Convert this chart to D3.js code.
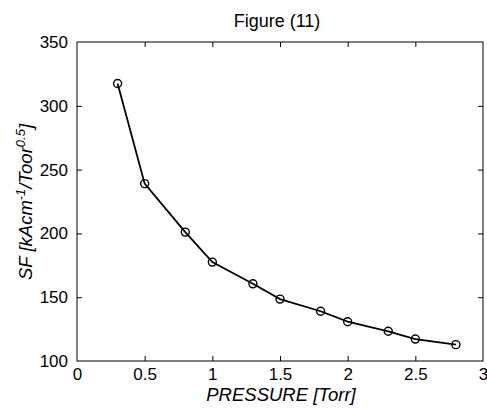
<!DOCTYPE html>
<html><head><meta charset="utf-8">
<script src="https://cdn.jsdelivr.net/npm/d3@7"></script>
<style>body{margin:0;background:#fff}svg{display:block}text{font-family:"Liberation Sans",Arial,sans-serif;fill:#000}</style>
</head><body><svg id="c" width="487" height="408"></svg>
<script>
const pressure = [0.3, 0.5, 0.8, 1.0, 1.3, 1.5, 1.8, 2.0, 2.3, 2.5, 2.8];
const sf = [317.5, 239, 201, 177.5, 160.5, 148.5, 139, 130.8, 123.3, 117.2, 112.8];
const xTicks = [0, 0.5, 1, 1.5, 2, 2.5, 3];
const yTicks = [100, 150, 200, 250, 300, 350];
const title = "Figure (11)";

const svg = d3.select("#c");
const L = 77, R = 483, T = 42, B = 361;
const x = d3.scaleLinear().domain([0, 3]).range([L, R]);
const y = d3.scaleLinear().domain([100, 350]).range([B, T]);
const fmt = d => d3.format("")(d);

svg.append("rect").attr("x", L).attr("y", T).attr("width", R - L).attr("height", B - T)
  .attr("fill", "#fff").attr("stroke", "#000").attr("stroke-width", 1);

const gx = svg.append("g").attr("transform", `translate(0,${B})`)
  .call(d3.axisBottom(x).tickValues(xTicks).tickSize(-5).tickPadding(7).tickFormat(fmt));
const gxt = svg.append("g").attr("transform", `translate(0,${T})`)
  .call(d3.axisTop(x).tickValues(xTicks).tickSize(-5).tickFormat(""));
const gy = svg.append("g").attr("transform", `translate(${L},0)`)
  .call(d3.axisLeft(y).tickValues(yTicks).tickSize(-5).tickPadding(9).tickFormat(fmt));
const gyr = svg.append("g").attr("transform", `translate(${R},0)`)
  .call(d3.axisRight(y).tickValues(yTicks).tickSize(-5).tickFormat(""));
[gx, gxt, gy, gyr].forEach(g => {
  g.select(".domain").remove();
  g.selectAll(".tick line").attr("stroke", "#000");
  g.selectAll("text").attr("font-size", 17).attr("font-family", "Liberation Sans, Arial, sans-serif").attr("fill", "#000");
});
gx.selectAll(".tick").filter(d => d === 0 || d === 3).select("line").remove();
gxt.selectAll(".tick").filter(d => d === 0 || d === 3).select("line").remove();
gy.selectAll(".tick").filter(d => d === 100 || d === 350).select("line").remove();
gyr.selectAll(".tick").filter(d => d === 100 || d === 350).select("line").remove();

const pts = pressure.map((p, i) => [p, sf[i]]);
svg.append("path").datum(pts)
  .attr("d", d3.line().x(d => x(d[0])).y(d => y(d[1])))
  .attr("fill", "none").attr("stroke", "#000").attr("stroke-width", 1.8);
svg.selectAll("circle.m").data(pts).enter().append("circle")
  .attr("cx", d => x(d[0])).attr("cy", d => y(d[1])).attr("r", 4)
  .attr("fill", "none").attr("stroke", "#000").attr("stroke-width", 1.4);

svg.append("text").attr("x", 277).attr("y", 27).attr("text-anchor", "middle")
  .attr("font-size", 18).text(title);

svg.append("text").attr("x", 281).attr("y", 401).attr("text-anchor", "middle")
  .attr("font-size", 18.5).attr("font-style", "italic").text("PRESSURE [Torr]");

const yl = svg.append("text").attr("transform", "translate(32,202) rotate(-90)")
  .attr("text-anchor", "middle").attr("font-size", 18.5).attr("font-style", "italic");
yl.append("tspan").text("SF [kAcm");
yl.append("tspan").attr("baseline-shift", "super").attr("font-size", 13).text("-1");
yl.append("tspan").text("/Toor");
yl.append("tspan").attr("baseline-shift", "super").attr("font-size", 13).text("0.5");
yl.append("tspan").text("]");
</script></body></html>
